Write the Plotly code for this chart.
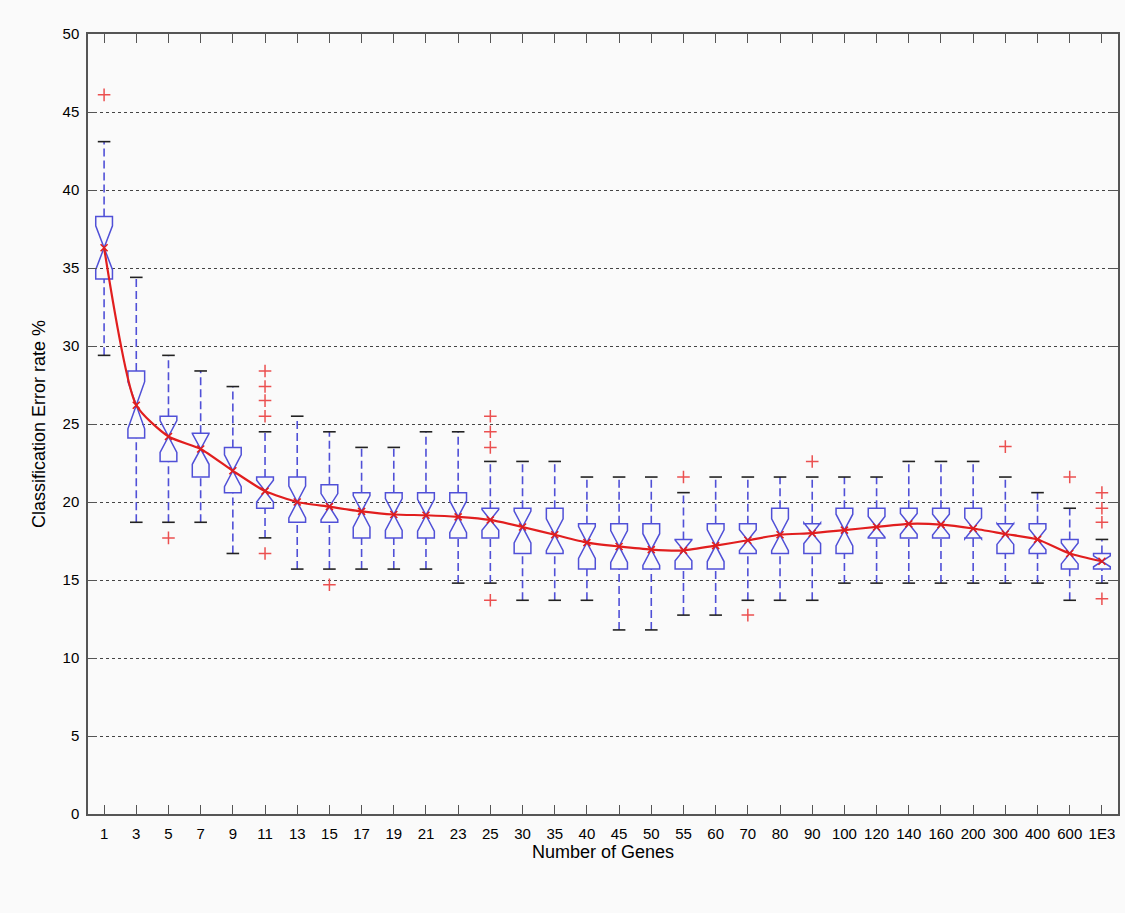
import plotly.graph_objects as go

categories = ["1", "3", "5", "7", "9", "11", "13", "15", "17", "19", "21", "23", "25",
              "30", "35", "40", "45", "50", "55", "60", "70", "80", "90", "100", "120",
              "140", "160", "200", "300", "400", "600", "1E3"]

upper_whisker = [43.1, 34.4, 29.4, 28.4, 27.4, 24.5, 25.5, 24.5, 23.5, 23.5, 24.5, 24.5, 22.6,
                 22.6, 22.6, 21.6, 21.6, 21.6, 20.6, 21.6, 21.6, 21.6, 21.6, 21.6, 21.6,
                 22.6, 22.6, 22.6, 21.6, 20.6, 19.6, 17.6]
q3_values = [38.3, 28.4, 25.5, 24.4, 23.5, 21.6, 21.6, 21.1, 20.6, 20.6, 20.6, 20.6, 19.6,
             19.6, 19.6, 18.6, 18.6, 18.6, 17.6, 18.6, 18.6, 19.6, 18.6, 19.6, 19.6,
             19.6, 19.6, 19.6, 18.6, 18.6, 17.6, 16.7]
median_values = [36.3, 26.2, 24.2, 23.4, 22.0, 20.7, 20.0, 19.7, 19.4, 19.2, 19.15, 19.05, 18.85,
                 18.4, 17.9, 17.4, 17.15, 16.95, 16.9, 17.2, 17.55, 17.9, 18.0, 18.2, 18.4,
                 18.6, 18.55, 18.3, 17.95, 17.6, 16.7, 16.2]
q1_values = [34.3, 24.1, 22.6, 21.6, 20.6, 19.6, 18.7, 18.7, 17.7, 17.7, 17.7, 17.7, 17.7,
             16.7, 16.7, 15.7, 15.7, 15.7, 15.7, 15.7, 16.7, 16.7, 16.7, 16.7, 17.7,
             17.7, 17.7, 17.7, 16.7, 16.7, 15.7, 15.7]
lower_whisker = [29.4, 18.7, 18.7, 18.7, 16.7, 17.7, 15.7, 15.7, 15.7, 15.7, 15.7, 14.8, 14.8,
                 13.7, 13.7, 13.7, 11.8, 11.8, 12.75, 12.75, 13.7, 13.7, 13.7, 14.8, 14.8,
                 14.8, 14.8, 14.8, 14.8, 14.8, 13.7, 14.8]

outlier_x = ["1", "5", "11", "11", "11", "11", "11", "15", "25", "25", "25", "25",
             "55", "70", "90", "300", "600", "1E3", "1E3", "1E3", "1E3"]
outlier_y = [46.1, 17.7, 28.4, 27.4, 26.5, 25.5, 16.7, 14.7, 25.5, 24.5, 23.5, 13.7,
             21.6, 12.75, 22.6, 23.55, 21.6, 20.6, 19.6, 18.7, 13.8]

y_ticks = [0, 5, 10, 15, 20, 25, 30, 35, 40, 45, 50]
n_runs = 20  # repetitions per box, used for the notch span (MATLAB formula)

BLUE = "rgb(80,80,215)"
RED = "rgb(225,30,30)"
FONT = "Liberation Sans, Arial, sans-serif"

notch = [1.57 * (hi - lo) / n_runs ** 0.5 for hi, lo in zip(q3_values, q1_values)]

fig = go.Figure()

# whiskers (dashed blue)
wx, wy = [], []
for c, lw, q1, q3, uw in zip(categories, lower_whisker, q1_values, q3_values, upper_whisker):
    wx += [c, c, None, c, c, None]
    wy += [lw, q1, None, q3, uw, None]
fig.add_trace(go.Scatter(x=wx, y=wy, mode="lines",
                         line=dict(color=BLUE, width=1.6, dash="8px,4px"),
                         hoverinfo="skip", showlegend=False))

# whisker caps (black)
fig.add_trace(go.Scatter(x=categories + categories, y=upper_whisker + lower_whisker,
                         mode="markers",
                         marker=dict(symbol="line-ew", size=9,
                                     line=dict(color="#222", width=1.6)),
                         hoverinfo="skip", showlegend=False))

# notched boxes
fig.add_trace(go.Box(x=categories, q1=q1_values, median=median_values, q3=q3_values,
                     lowerfence=q1_values, upperfence=q3_values,
                     notched=True, notchspan=notch, notchwidth=0.5,
                     width=0.52, whiskerwidth=0,
                     fillcolor="rgba(0,0,0,0)", line=dict(color=BLUE, width=1.5),
                     boxpoints=False, showlegend=False))

# outliers
fig.add_trace(go.Scatter(x=outlier_x, y=outlier_y, mode="markers",
                         marker=dict(symbol="cross-thin", size=9,
                                     line=dict(color="rgb(235,80,80)", width=1.5)),
                         showlegend=False))

# red trend line through medians
fig.add_trace(go.Scatter(x=categories, y=median_values, mode="lines+markers",
                         line=dict(color=RED, width=2.2, shape="spline", smoothing=0.6),
                         marker=dict(symbol="x-thin", size=7, line=dict(color=RED, width=1.6)),
                         showlegend=False))

fig.update_layout(
    width=1125, height=913,
    margin=dict(l=88, r=5, t=34, b=99),
    paper_bgcolor="#fafafa", plot_bgcolor="#fafafa",
    font=dict(family=FONT, size=15, color="black"),
    showlegend=False,
)
fig.update_xaxes(
    type="category", categoryorder="array", categoryarray=categories,
    range=[-0.5, len(categories) - 0.5],
    showgrid=False, zeroline=False,
    showline=True, linecolor="#555", linewidth=1.5, mirror="ticks",
    ticks="inside", ticklen=9, tickcolor="#555", tickwidth=1,
    tickfont=dict(size=15, family=FONT), ticklabelstandoff=5,
    title=dict(text="Number of Genes", font=dict(size=18, family=FONT), standoff=4),
)
fig.update_yaxes(
    range=[0, 50], tickvals=y_ticks, ticktext=[str(v) for v in y_ticks],
    showgrid=True, gridcolor="#444", griddash="dot", gridwidth=1,
    zeroline=False,
    showline=True, linecolor="#555", linewidth=1.5, mirror="ticks",
    ticks="inside", ticklen=9, tickcolor="#555", tickwidth=1,
    tickfont=dict(size=15, family=FONT), ticklabelstandoff=4,
    title=dict(text="Classification Error rate %", font=dict(size=18, family=FONT), standoff=12),
)

fig.write_html("out.html")
